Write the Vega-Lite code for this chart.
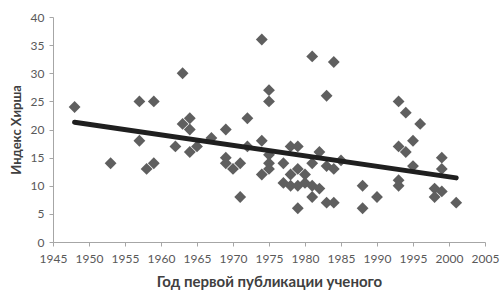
{
  "$schema": "https://vega.github.io/schema/vega-lite/v6.json",
  "width": 432,
  "height": 225,
  "autosize": "none",
  "padding": {"left": 53, "top": 17, "right": 16, "bottom": 51},
  "background": "white",
  "config": {
    "view": {"stroke": null},
    "axis": {
      "grid": false,
      "domainColor": "#a6a6a6",
      "tickColor": "#a6a6a6",
      "tickSize": 4,
      "labelFont": "Lato",
      "labelFontSize": 12,
      "labelColor": "#595959",
      "labelBound": false,
      "labelOverlap": false,
      "labelFlush": false,
      "titleFont": "Lato",
      "titleFontWeight": "bold",
      "titleColor": "#404040"
    }
  },
  "datasets": {
    "pts": [
      {"year": 1948, "h": 24}, {"year": 1953, "h": 14}, {"year": 1957, "h": 25}, {"year": 1959, "h": 25},
      {"year": 1963, "h": 30}, {"year": 1957, "h": 18}, {"year": 1958, "h": 13}, {"year": 1959, "h": 14},
      {"year": 1962, "h": 17}, {"year": 1963, "h": 21}, {"year": 1964, "h": 22}, {"year": 1964, "h": 20},
      {"year": 1964, "h": 16}, {"year": 1965, "h": 17}, {"year": 1967, "h": 18.5}, {"year": 1969, "h": 20},
      {"year": 1969, "h": 15}, {"year": 1969, "h": 14}, {"year": 1970, "h": 13}, {"year": 1971, "h": 14},
      {"year": 1971, "h": 8}, {"year": 1972, "h": 22}, {"year": 1972, "h": 17}, {"year": 1974, "h": 36},
      {"year": 1974, "h": 18}, {"year": 1974, "h": 12}, {"year": 1975, "h": 27}, {"year": 1975, "h": 25},
      {"year": 1975, "h": 15.5}, {"year": 1975, "h": 14}, {"year": 1975, "h": 13}, {"year": 1977, "h": 14},
      {"year": 1977, "h": 10.5}, {"year": 1978, "h": 17}, {"year": 1978, "h": 12}, {"year": 1978, "h": 10},
      {"year": 1979, "h": 17}, {"year": 1979, "h": 13}, {"year": 1979, "h": 10}, {"year": 1979, "h": 6},
      {"year": 1980, "h": 12}, {"year": 1980, "h": 10.5}, {"year": 1981, "h": 33}, {"year": 1981, "h": 14},
      {"year": 1981, "h": 10}, {"year": 1981, "h": 8}, {"year": 1982, "h": 16}, {"year": 1982, "h": 9.5},
      {"year": 1983, "h": 26}, {"year": 1983, "h": 13.5}, {"year": 1983, "h": 7}, {"year": 1984, "h": 32},
      {"year": 1984, "h": 13}, {"year": 1984, "h": 7}, {"year": 1985, "h": 14.5}, {"year": 1988, "h": 10},
      {"year": 1988, "h": 6}, {"year": 1990, "h": 8}, {"year": 1993, "h": 25}, {"year": 1993, "h": 17},
      {"year": 1993, "h": 11}, {"year": 1993, "h": 10}, {"year": 1994, "h": 23}, {"year": 1994, "h": 16},
      {"year": 1995, "h": 18}, {"year": 1995, "h": 13.5}, {"year": 1996, "h": 21}, {"year": 1998, "h": 9.5},
      {"year": 1998, "h": 8}, {"year": 1999, "h": 15}, {"year": 1999, "h": 13}, {"year": 1999, "h": 9},
      {"year": 2001, "h": 7}
    ],
    "trend": [
      {"year": 1948, "h": 21.3},
      {"year": 2001, "h": 11.4}
    ]
  },
  "encoding": {
    "x": {
      "field": "year", "type": "quantitative",
      "scale": {"domain": [1945, 2005], "nice": false, "zero": false},
      "axis": {"values": [1945,1950,1955,1960,1965,1970,1975,1980,1985,1990,1995,2000,2005], "format": "d", "labelOverlap": false, "labelFlush": false, "labelPadding": 7, "title": "Год первой публикации ученого", "titleFontSize": 15, "titlePadding": 10}
    },
    "y": {
      "field": "h", "type": "quantitative",
      "scale": {"domain": [0, 40], "nice": false},
      "axis": {"values": [0,5,10,15,20,25,30,35,40], "labelOverlap": false, "labelFlush": false, "labelPadding": 5, "title": "Индекс Хирша", "titleFontSize": 13, "titlePadding": 7}
    }
  },
  "layer": [
    {
      "data": {"name": "pts"},
      "mark": {"type": "point", "shape": "diamond", "filled": true, "size": 140, "color": "#5f5f5f", "opacity": 1}
    },
    {
      "data": {"name": "trend"},
      "mark": {"type": "line", "color": "#1f1f1f", "strokeWidth": 5, "strokeCap": "round"}
    }
  ]
}
